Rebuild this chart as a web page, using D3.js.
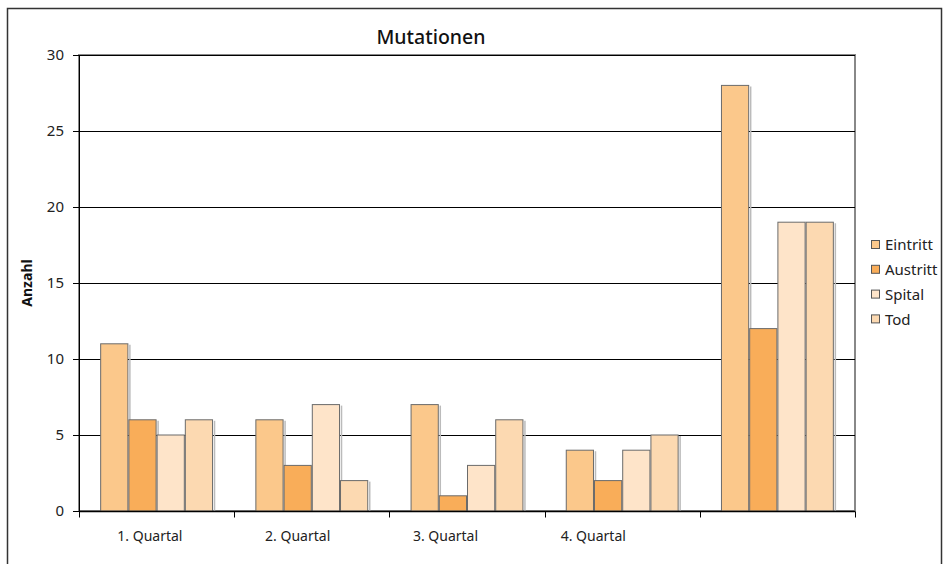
<!DOCTYPE html>
<html>
<head>
<meta charset="utf-8">
<script src="https://cdn.jsdelivr.net/npm/d3@7"></script>
<style>
  body { margin: 0; background: #fff; }
  svg { display: block; font-family: "Noto Sans", "Open Sans", sans-serif; }
</style>
</head>
<body>
<svg id="chart" width="947" height="564"></svg>
<script>
// Data
const categories = ['1. Quartal', '2. Quartal', '3. Quartal', '4. Quartal', ''];
const seriesNames = ['Eintritt', 'Austritt', 'Spital', 'Tod'];
const eintritt = [11, 6, 7, 4, 28];
const austritt = [6, 3, 1, 2, 12];
const spital = [5, 7, 3, 4, 19];
const tod = [6, 2, 6, 5, 19];
const yTicks = [0, 5, 10, 15, 20, 25, 30];

const colors = ['#fbc88b', '#f9ad59', '#fee4c9', '#fcd9b1'];
const seriesValues = [eintritt, austritt, spital, tod];

const margin = {top: 55, left: 79, right: 92, bottom: 53};
const width = 947, height = 564;
const svg = d3.select('#chart');

// outer frame
svg.append('rect')
  .attr('x', 7.5).attr('y', 8.5)
  .attr('width', 934).attr('height', 620)
  .attr('fill', 'none').attr('stroke', '#333').attr('stroke-width', 1.5);

const x0 = d3.scaleBand()
  .domain(categories.map((c, i) => i))
  .range([margin.left, width - margin.right]);

// bars fill group with gap width 150%
const x1 = d3.scaleBand()
  .domain(seriesNames)
  .range([0, x0.bandwidth()])
  .paddingInner(0)
  .paddingOuter(0.75);

const y = d3.scaleLinear()
  .domain([0, 30])
  .range([height - margin.bottom, margin.top]);

// plot area border
svg.append('rect')
  .attr('x', margin.left).attr('y', margin.top)
  .attr('width', width - margin.right - margin.left)
  .attr('height', y(0) - margin.top)
  .attr('fill', 'none').attr('stroke', '#888').attr('stroke-width', 2);

// gridlines
svg.append('g')
  .selectAll('line')
  .data(yTicks.slice(1))
  .join('line')
  .attr('x1', margin.left).attr('x2', width - margin.right)
  .attr('y1', d => Math.round(y(d)) + 0.5).attr('y2', d => Math.round(y(d)) + 0.5)
  .attr('stroke', '#000');

// bars
const rows = categories.map((c, i) => seriesNames.map((s, j) => ({cat: i, series: s, value: seriesValues[j][i], color: colors[j]})));

const groups = svg.append('g')
  .selectAll('g')
  .data(rows)
  .join('g')
  .attr('transform', (d, i) => `translate(${x0(i)},0)`);

groups.selectAll('line.shadow')
  .data(d => d)
  .join('line')
  .attr('class', 'shadow')
  .attr('x1', d => x1(d.series) + x1.bandwidth() + 1.5)
  .attr('x2', d => x1(d.series) + x1.bandwidth() + 1.5)
  .attr('y1', d => y(d.value) + 1)
  .attr('y2', y(0))
  .attr('stroke', '#bbb').attr('stroke-width', 1.5);

groups.selectAll('rect')
  .data(d => d)
  .join('rect')
  .attr('x', d => x1(d.series) + 0.5)
  .attr('y', d => y(d.value))
  .attr('width', x1.bandwidth() - 1)
  .attr('height', d => y(0) - y(d.value))
  .attr('fill', d => d.color)
  .attr('stroke', '#6b6b6b')
  .attr('stroke-width', 1);

// y axis
const yAxis = svg.append('g')
  .attr('transform', `translate(${margin.left},0)`)
  .call(d3.axisLeft(y).tickValues(yTicks).tickSize(6).tickPadding(9).tickFormat(d3.format('d')));
yAxis.selectAll('text').attr('font-size', 15).attr('fill', '#222')
  .style('font-family', '"Noto Sans", sans-serif');
yAxis.selectAll('line, path').attr('stroke', '#000');
yAxis.select('.domain').attr('d', `M0.5,${margin.top}V${y(0)}`);

// x axis: ticks at group boundaries
const xAxisG = svg.append('g')
  .attr('transform', `translate(0,${Math.round(y(0)) + 0.5})`);
xAxisG.append('line')
  .attr('x1', margin.left).attr('x2', width - margin.right)
  .attr('stroke', '#000').attr('stroke-width', 1.5);
xAxisG.selectAll('line.tick')
  .data(categories.map((c, i) => i).concat([categories.length]))
  .join('line')
  .attr('class', 'tick')
  .attr('x1', d => Math.round(d < categories.length ? x0(d) : x0(d - 1) + x0.bandwidth()) + 0.5)
  .attr('x2', d => Math.round(d < categories.length ? x0(d) : x0(d - 1) + x0.bandwidth()) + 0.5)
  .attr('y1', 0).attr('y2', 6)
  .attr('stroke', '#000');

// category labels (Excel places them slightly left of group centres)
const xLabel = d3.scaleBand()
  .domain(categories.map((c, i) => i))
  .range([margin.left - 3, margin.left - 3 + 147.8 * categories.length]);
svg.append('g')
  .selectAll('text')
  .data(categories)
  .join('text')
  .attr('x', (d, i) => xLabel(i) + xLabel.bandwidth() / 2)
  .attr('y', 541)
  .attr('text-anchor', 'middle')
  .attr('font-size', 14)
  .attr('fill', '#222')
  .text(d => d);

// title
svg.append('text')
  .attr('x', 431).attr('y', 44)
  .attr('text-anchor', 'middle')
  .attr('font-size', 19.5)
  .attr('font-weight', 500)
  .attr('fill', '#111')
  .text('Mutationen');

// y axis title
svg.append('text')
  .attr('transform', `translate(32,${(margin.top + y(0)) / 2}) rotate(-90)`)
  .attr('text-anchor', 'middle')
  .attr('font-size', 14)
  .attr('font-weight', 'bold')
  .attr('fill', '#111')
  .text('Anzahl');

// legend
const legend = svg.append('g')
  .selectAll('g')
  .data(seriesNames)
  .join('g')
  .attr('transform', (d, i) => `translate(871,${245 + i * 24.8})`);
legend.append('rect')
  .attr('x', 0.5).attr('y', -4.5)
  .attr('width', 8).attr('height', 8)
  .attr('fill', (d, i) => colors[i])
  .attr('stroke', '#555');
legend.append('text')
  .attr('x', 14).attr('y', 0)
  .attr('dy', '0.35em')
  .attr('font-size', 15)
  .attr('fill', '#222')
  .text(d => d);
</script>
</body>
</html>
